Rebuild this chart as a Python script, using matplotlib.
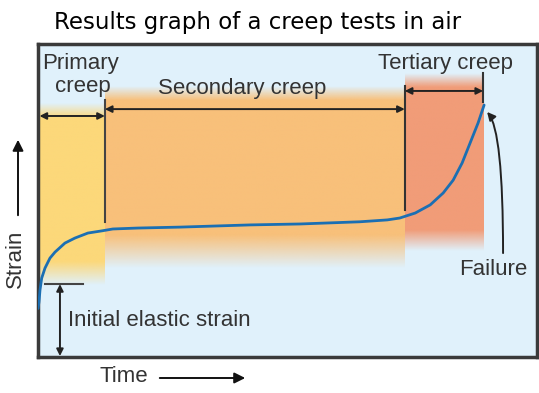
import numpy as np
import matplotlib.pyplot as plt

# --- creep curve (time and strain in % of the frame) ---
time = [0.0, 0.2, 0.4, 0.74, 1.4, 2.4, 3.4, 5.4, 7.4, 10.0, 12.8, 15.0, 20.0, 28.5,
        42.5, 52.5, 64.5, 70.0, 72.5, 75.6, 78.6, 81.2, 83.2, 85.0, 86.6, 88.2, 89.4]
strain = [15.5, 17.6, 21.4, 25.2, 28.4, 31.6, 33.5, 36.4, 38.0, 39.6, 40.3, 40.9,
          41.2, 41.5, 42.2, 42.5, 43.2, 43.8, 44.4, 46.0, 48.6, 52.4, 56.5, 62.0,
          68.4, 74.8, 80.5]

# --- stage boundaries (time) ---
stage_edges = [0.0, 13.4, 73.5, 89.2]
stage_colors = ["#fcd87a", "#f8c07a", "#f19c78"]
# vertical fade limits: bottom-fade start/end, top-fade start/end
stage_fade = [(23.0, 30.5, 76.4, 81.2),
              (28.4, 39.0, 82.1, 86.6),
              (33.9, 40.6, 86.3, 90.7)]
elastic_strain = 23.3

fig = plt.figure(figsize=(5.39, 3.93), dpi=100)
ax = fig.add_axes([38 / 539, 36 / 393, 499 / 539, 313 / 393])
ax.set_xlim(0, 100)
ax.set_ylim(0, 100)
ax.set_facecolor("#e0f1fb")
ax.set_xticks([])
ax.set_yticks([])
for s in ax.spines.values():
    s.set_color("#3a3a3a")
    s.set_linewidth(2.5)

# shaded stage bands with soft top/bottom edges
yy = np.linspace(0, 100, 500)
for i, c in enumerate(stage_colors):
    b0, b1, t0, t1 = stage_fade[i]
    alpha = np.interp(yy, [b0, b1, t0, t1], [0, 1, 1, 0], left=0, right=0)
    rgb = np.array([int(c[k:k + 2], 16) / 255 for k in (1, 3, 5)])
    img = np.zeros((len(yy), 1, 4))
    img[:, 0, :3] = rgb
    img[:, 0, 3] = alpha
    ax.imshow(img, extent=[stage_edges[i], stage_edges[i + 1], 0, 100],
              origin="lower", aspect="auto", interpolation="bilinear", zorder=1)

txt = dict(family="Liberation Sans", color="#333333", fontsize=16)
arrow_kw = dict(arrowstyle="<|-|>", color="#222222", lw=1.4,
                mutation_scale=10, shrinkA=0, shrinkB=0)

# divider lines
ax.plot([13.4, 13.4], [43.1, 82.1], color="#444444", lw=1.5, zorder=3)
ax.plot([73.5, 73.5], [47.0, 86.6], color="#333333", lw=1.5, zorder=3)
ax.plot([89.2, 89.2], [81.5, 90.7], color="#333333", lw=1.5, zorder=3)

# stage arrows
ax.annotate("", xy=(0.3, 77.0), xytext=(13.4, 77.0), arrowprops=arrow_kw)
ax.annotate("", xy=(13.4, 79.2), xytext=(73.5, 79.2), arrowprops=arrow_kw)
ax.annotate("", xy=(73.5, 85.0), xytext=(89.2, 85.0), arrowprops=arrow_kw)

ax.text(8.6, 93.9, "Primary", ha="center", va="center", **txt)
ax.text(8.9, 86.3, "creep", ha="center", va="center", **txt)
ax.text(40.9, 85.9, "Secondary creep", ha="center", va="center", **txt)
ax.text(81.6, 93.9, "Tertiary creep", ha="center", va="center", **txt)

# creep curve
ax.plot(time, strain, color="#1b6fb3", lw=2.0, zorder=4, solid_capstyle="round")

# initial elastic strain
ax.plot([1.4, 9.0], [elastic_strain, elastic_strain], color="#444444", lw=1.5, zorder=3)
ax.annotate("", xy=(4.4, 0.3), xytext=(4.4, elastic_strain), arrowprops=arrow_kw)
ax.text(6.0, 11.8, "Initial elastic strain", ha="left", va="center", **txt)

# failure
ax.annotate("", xy=(90.0, 78.3), xytext=(93.2, 33.2),
            arrowprops=dict(arrowstyle="-|>", color="#222222", lw=1.4,
                            mutation_scale=12, shrinkA=0, shrinkB=0,
                            connectionstyle="angle3,angleA=90,angleB=130"))
ax.text(91.2, 28.1, "Failure", ha="center", va="center", **txt)

# outer labels
fig.text(258 / 539, 1 - 22 / 393, "Results graph of a creep tests in air",
         ha="center", va="center", fontsize=16.5, family="DejaVu Sans", color="black")
fig.text(15 / 539, 1 - 259 / 393, "Strain", rotation=90, ha="center", va="center", **txt)
fig.text(124 / 539, 1 - 377 / 393, "Time", ha="center", va="center", **txt)
fig.patches.append(plt.matplotlib.patches.FancyArrowPatch(
    (18 / 539, 1 - 218 / 393), (18 / 539, 1 - 137 / 393), transform=fig.transFigure,
    arrowstyle="-|>", mutation_scale=16, color="#111111", lw=1.4))
fig.patches.append(plt.matplotlib.patches.FancyArrowPatch(
    (157 / 539, 1 - 378 / 393), (248 / 539, 1 - 378 / 393), transform=fig.transFigure,
    arrowstyle="-|>", mutation_scale=16, color="#111111", lw=1.4))

fig.savefig("out.png", dpi=100)
